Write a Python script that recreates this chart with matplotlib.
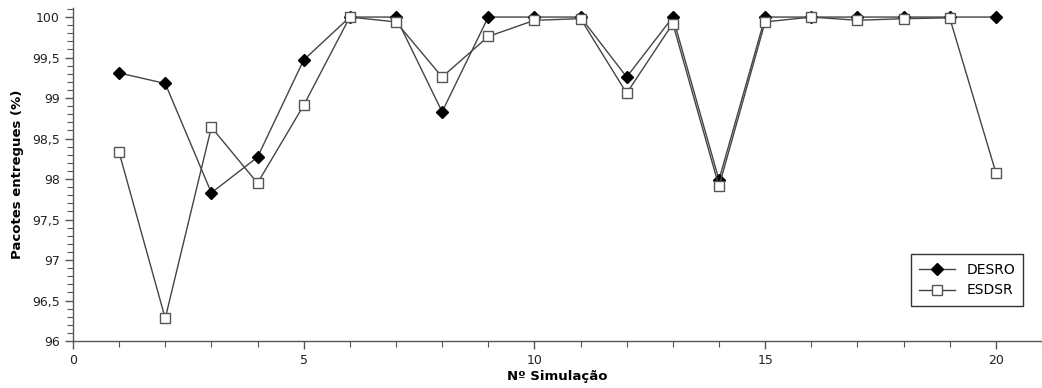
#!/usr/bin/env python3
"""Delivered packets per simulation run, DESRO vs ESDSR."""

import matplotlib

matplotlib.use("Agg")
import matplotlib.pyplot as plt
from matplotlib.ticker import MultipleLocator, FuncFormatter

simulations = list(range(1, 21))
desro = [99.31, 99.18, 97.83, 98.27, 99.47, 100.0, 100.0, 98.83, 100.0, 100.0,
         100.0, 99.26, 100.0, 97.99, 100.0, 100.0, 100.0, 100.0, 100.0, 100.0]
esdsr = [98.33, 96.28, 98.64, 97.95, 98.91, 100.0, 99.94, 99.26, 99.76, 99.96,
         99.98, 99.06, 99.92, 97.91, 99.94, 100.0, 99.96, 99.98, 99.99, 98.08]


def CommaFormat(value, pos):
    text = f"{value:g}"
    return text.replace(".", ",")


fig = plt.figure(figsize=(10.42, 3.88), dpi=100)
ax = fig.add_axes([0.070, 0.121, 0.930, 0.858])

line_color = "#444444"
ax.plot(simulations, desro, color=line_color, linewidth=1.0, marker="D",
        markersize=6, markerfacecolor="black", markeredgecolor="black",
        label="DESRO", zorder=3)
ax.plot(simulations, esdsr, color=line_color, linewidth=1.0, marker="s",
        markersize=7.5, markerfacecolor="white", markeredgecolor="#555555",
        markeredgewidth=1.0, label="ESDSR", zorder=4)

ax.set_xlim(0, 21)
ax.set_ylim(96, 100.11)
ax.xaxis.set_major_locator(MultipleLocator(5))
ax.xaxis.set_minor_locator(MultipleLocator(1))
ax.yaxis.set_major_locator(MultipleLocator(0.5))
ax.yaxis.set_minor_locator(MultipleLocator(0.1))
ax.yaxis.set_major_formatter(FuncFormatter(CommaFormat))

for side in ("top", "right"):
    ax.spines[side].set_visible(False)
for side in ("left", "bottom"):
    ax.spines[side].set_color("#555555")
    ax.spines[side].set_linewidth(1.0)

ax.tick_params(axis="both", which="major", length=6, width=1.0,
               color="#555555", labelsize=9, labelcolor="#222222")
ax.tick_params(axis="both", which="minor", length=4, width=0.8,
               color="#555555")

ax.set_xlabel("Nº Simulação", fontsize=9.5, fontweight="bold", labelpad=2)
ax.set_ylabel("Pacotes entregues (%)", fontsize=9.5, fontweight="bold",
              labelpad=6)

leg = ax.legend(loc="lower right", bbox_to_anchor=(0.988, 0.085), fontsize=10,
                frameon=True, fancybox=False, edgecolor="black",
                borderpad=0.6, handlelength=2.6, labelspacing=0.5)
leg.get_frame().set_linewidth(1.0)

fig.savefig("out.png", dpi=100)
plt.close(fig)
